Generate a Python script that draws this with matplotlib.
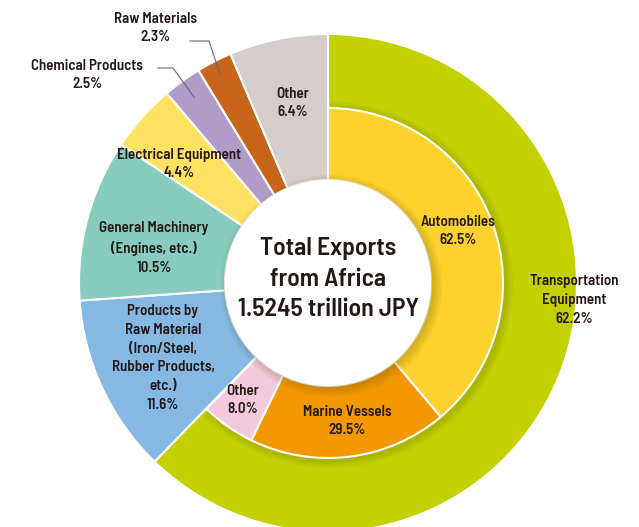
import matplotlib.pyplot as plt
from matplotlib.patches import Circle

plt.rcParams['font.family'] = ['Barlow Semi Condensed', 'DejaVu Sans']

# outer ring (share of total exports, %), clockwise from 12 o'clock
outer_labels = ['Transportation\nEquipment', 'Products by\nRaw Material\n(Iron/Steel,\nRubber Products,\netc.)',
                'General Machinery\n(Engines, etc.)', 'Electrical Equipment', 'Chemical Products',
                'Raw Materials', 'Other']
outer_values = [62.2, 11.6, 10.5, 4.4, 2.5, 2.3, 6.4]
outer_colors = ['#C3D100', '#85B9E4', '#87CCBF', '#FFE262', '#B19CC7', '#C8651B', '#D5CDC9']

# breakdown of transportation equipment (% of that category)
transport_labels = ['Automobiles', 'Marine Vessels', 'Other']
transport_values = [62.5, 29.5, 8.0]
transport_colors = ['#FDD22E', '#F39800', '#F5C9DC']

center_text = 'Total Exports\nfrom Africa\n1.5245 trillion JPY'

# layout in pixels (image coords, y down)
W, H = 639, 527
CX, CY = 328, 283
R_OUT, R_MID, R_HOLE = 249, 175, 103
TXT = '#231815'

fig = plt.figure(figsize=(W / 100, H / 100), dpi=100)
ax = fig.add_axes([0, 0, 1, 1])
center = (CX, H - CY)

# outer ring: every category from hole to outer edge
ax.pie(outer_values, radius=R_OUT, center=center, startangle=90, counterclock=False,
       colors=outer_colors, wedgeprops=dict(width=R_OUT - R_HOLE, edgecolor='white', linewidth=1.5))

sub = [v * outer_values[0] / 100 for v in transport_values]

# soft shadow under the transport breakdown
for i in range(4):
    ax.pie(sub + [100 - outer_values[0]], radius=R_MID + 2 + 2 * i, center=(center[0] + 2, center[1] - 2),
           startangle=90, counterclock=False, colors=[(0.3, 0.3, 0.0, 0.05)] * 3 + ['none'],
           wedgeprops=dict(width=R_MID - R_HOLE, linewidth=0))

# inner ring: transportation breakdown
wedges, _ = ax.pie(sub + [100 - outer_values[0]], radius=R_MID, center=center, startangle=90,
                   counterclock=False, colors=transport_colors + ['none'],
                   wedgeprops=dict(width=R_MID - R_HOLE, edgecolor='white', linewidth=1.5))
wedges[-1].set_edgecolor('none')

# hole with a light shadow
for i in range(5):
    ax.add_patch(Circle((center[0] + 3, center[1] - 3), R_HOLE + 8 - 2 * i, color='#5a4a00', alpha=0.05, lw=0))
ax.add_patch(Circle(center, R_HOLE, facecolor='white', edgecolor='none'))

ax.text(CX, H - 279, center_text, ha='center', va='center', fontsize=18.5, fontweight=600,
        color=TXT, linespacing=1.4)

# label positions (image px)
outer_pos = [(574, 300), (163, 358), (154, 248), (179, 164), (87, 75), (155, 28), (293, 103)]
for lab, val, (x, y) in zip(outer_labels, outer_values, outer_pos):
    ax.text(x, H - y, f'{lab}\n{val}%', ha='center', va='center', fontsize=10.8,
            fontweight=600, color=TXT, linespacing=1.45)

transport_pos = [(458, 231), (347, 421), (243, 400)]
for lab, val, (x, y) in zip(transport_labels, transport_values, transport_pos):
    ax.text(x, H - y, f'{lab}\n{val}%', ha='center', va='center', fontsize=10.8,
            fontweight=600, color=TXT, linespacing=1.45)

# leader lines
ax.plot([190, 209, 220], [H - 41, H - 41, H - 74], color='#6b6b6b', lw=0.8)
ax.plot([158, 173, 194], [H - 68, H - 68, H - 97], color='#6b6b6b', lw=0.8)

ax.set_xlim(0, W)
ax.set_ylim(0, H)
ax.set_aspect('equal')
ax.axis('off')
fig.savefig('out.png', dpi=100)
